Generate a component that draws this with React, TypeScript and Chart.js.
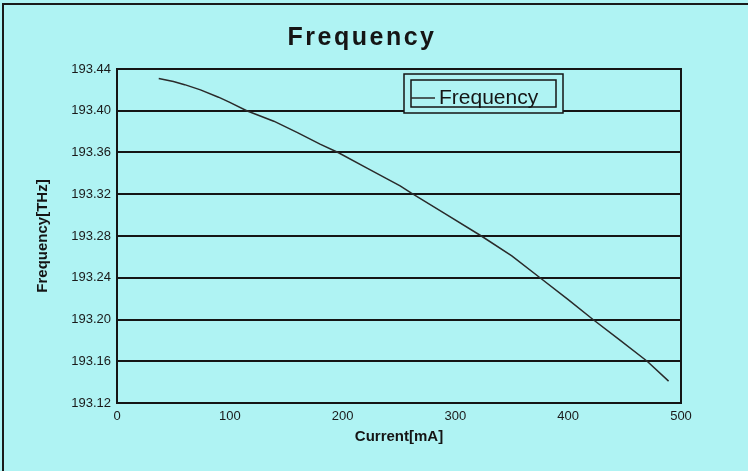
import React, { useEffect, useRef } from "react";
import { Chart, registerables } from "chart.js";

Chart.register(...registerables);

const chartTitle = "Frequency";
const seriesLabel = "Frequency";
const xAxisTitle = "Current[mA]";
const yAxisTitle = "Frequency[THz]";

const currents = [37, 50, 60, 74, 90, 100, 115, 139, 160, 180, 196, 220, 239, 251, 261, 290, 323, 350, 375, 400, 422, 445, 470, 489];
const frequencies = [
  193.431, 193.428, 193.425, 193.42, 193.413, 193.408, 193.4, 193.39, 193.379, 193.368, 193.36, 193.346,
  193.335, 193.328, 193.321, 193.302, 193.28, 193.261, 193.24, 193.219, 193.2, 193.181, 193.16, 193.141,
];

const xTicks = [0, 100, 200, 300, 400, 500];
const yTicks = [193.12, 193.16, 193.2, 193.24, 193.28, 193.32, 193.36, 193.4, 193.44];

const BG = "#aff3f3";
const INK = "#151515";
const FONT = "'Liberation Sans', Arial, sans-serif";

export default function App() {
  const ref = useRef<HTMLCanvasElement | null>(null);

  useEffect(() => {
    document.body.style.margin = "0";
    const canvas = ref.current;
    if (!canvas) return;

    const decor = {
      id: "decor",
      beforeDraw(chart: any) {
        const { ctx, width, height } = chart;
        ctx.save();
        ctx.fillStyle = BG;
        ctx.fillRect(0, 0, width, height);
        ctx.restore();
      },
      afterDraw(chart: any) {
        const { ctx, chartArea } = chart;
        ctx.save();
        // outer frame (left + top)
        ctx.strokeStyle = "#1a1a1a";
        ctx.lineWidth = 2;
        ctx.beginPath();
        ctx.moveTo(3, 471);
        ctx.lineTo(3, 4);
        ctx.lineTo(748, 4);
        ctx.stroke();

        // plot frame
        ctx.strokeStyle = INK;
        ctx.lineWidth = 2;
        ctx.strokeRect(chartArea.left, chartArea.top, chartArea.right - chartArea.left, chartArea.bottom - chartArea.top);

        // title
        ctx.fillStyle = INK;
        ctx.font = `bold 25px ${FONT}`;
        (ctx as any).letterSpacing = "2.5px";
        ctx.textAlign = "center";
        ctx.textBaseline = "alphabetic";
        ctx.fillText(chartTitle, 362, 45);
        (ctx as any).letterSpacing = "0px";

        // legend
        const ox = 404, oy = 74, ow = 159, oh = 39;
        ctx.fillStyle = BG;
        ctx.fillRect(ox, oy, ow, oh);
        ctx.strokeStyle = INK;
        ctx.lineWidth = 1.5;
        ctx.strokeRect(ox, oy, ow, oh);
        ctx.strokeRect(ox + 7, oy + 6, ow - 14, oh - 12);
        ctx.strokeStyle = "#2a2a2a";
        ctx.lineWidth = 1.5;
        ctx.beginPath();
        ctx.moveTo(ox + 7, oy + 24);
        ctx.lineTo(ox + 31, oy + 24);
        ctx.stroke();
        ctx.fillStyle = INK;
        ctx.font = `21px ${FONT}`;
        ctx.textAlign = "left";
        ctx.textBaseline = "alphabetic";
        ctx.fillText(seriesLabel, ox + 35, oy + 30);
        ctx.restore();
      },
    };

    const chart = new Chart(canvas, {
      type: "line",
      data: {
        datasets: [
          {
            label: seriesLabel,
            data: currents.map((c, i) => ({ x: c, y: frequencies[i] })),
            borderColor: "#2a2a2a",
            borderWidth: 1.5,
            pointRadius: 0,
            tension: 0,
            fill: false,
          },
        ],
      },
      options: {
        responsive: false,
        animation: false,
        layout: { padding: { top: 69, right: 67, left: 0, bottom: 0 } },
        plugins: {
          legend: { display: false },
          title: { display: false },
          tooltip: { enabled: false },
        },
        scales: {
          x: {
            type: "linear",
            min: 0,
            max: 500,
            afterBuildTicks: (scale: any) => {
              scale.ticks = xTicks.map((v) => ({ value: v }));
            },
            afterFit: (scale: any) => {
              scale.height = 68;
            },
            grid: { display: false, drawTicks: false },
            border: { display: true, color: INK, width: 2 },
            ticks: {
              color: "#1a1a1a",
              font: { family: FONT, size: 13 },
              padding: 6,
              maxRotation: 0,
              autoSkip: false,
            },
            title: {
              display: true,
              text: xAxisTitle,
              color: INK,
              font: { family: FONT, size: 15, weight: "bold" },
              padding: { top: 0, bottom: 25 },
            },
          },
          y: {
            type: "linear",
            min: 193.12,
            max: 193.44,
            afterBuildTicks: (scale: any) => {
              scale.ticks = yTicks.map((v) => ({ value: v }));
            },
            afterFit: (scale: any) => {
              scale.width = 117;
            },
            grid: { color: INK, lineWidth: 2, drawTicks: false },
            border: { display: true, color: INK, width: 2 },
            ticks: {
              color: "#1a1a1a",
              font: { family: FONT, size: 13 },
              padding: 6,
              autoSkip: false,
              callback: (v: any) => Number(v).toFixed(2),
            },
            title: {
              display: true,
              text: yAxisTitle,
              color: INK,
              font: { family: FONT, size: 15, weight: "bold" },
              padding: { top: 34, bottom: 0 },
            },
          },
        },
      },
      plugins: [decor],
    });

    return () => chart.destroy();
  }, []);

  return (
    <div style={{ width: 748, height: 471 }}>
      <canvas ref={ref} width={748} height={471} style={{ display: "block", width: 748, height: 471 }} />
    </div>
  );
}
